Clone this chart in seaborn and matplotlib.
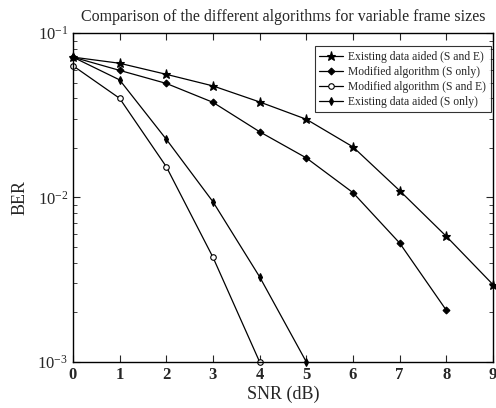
import numpy as np
import pandas as pd
import matplotlib
matplotlib.use("Agg")
import matplotlib.pyplot as plt
import seaborn as sns
from matplotlib.ticker import LogLocator, NullFormatter

snr_a = [0, 1, 2, 3, 4, 5, 6, 7, 8, 9]
ber_a = [0.0714, 0.0655, 0.0561, 0.0477, 0.0381, 0.0299, 0.0203, 0.0110, 0.0058, 0.00295]

snr_b = [0, 1, 2, 3, 4, 5, 6, 7, 8]
ber_b = [0.0714, 0.0593, 0.0494, 0.0379, 0.0251, 0.0174, 0.0107, 0.00528, 0.00206]

snr_c = [0, 1, 2, 3, 4]
ber_c = [0.0633, 0.0401, 0.0154, 0.00433, 0.001]

snr_d = [0, 1, 2, 3, 4, 5]
ber_d = [0.0714, 0.0519, 0.0226, 0.00942, 0.00329, 0.001]

labels = ["Existing data aided (S and E)", "Modified algorithm (S only)",
          "Modified algorithm (S and E)", "Existing data aided (S only)"]

frames = []
for lab, xs, ys in zip(labels, [snr_a, snr_b, snr_c, snr_d], [ber_a, ber_b, ber_c, ber_d]):
    frames.append(pd.DataFrame({"SNR": xs, "BER": ys, "series": lab}))
df = pd.concat(frames, ignore_index=True)

sns.set_style("ticks")
plt.rcParams['font.family'] = ['Liberation Serif', 'DejaVu Serif']
plt.rcParams['mathtext.fontset'] = 'stix'

fig = plt.figure(figsize=(4.96, 4.08), dpi=100)
ax = fig.add_axes([0.147, 0.113, 0.847, 0.806])

markers = {labels[0]: '*', labels[1]: 'D', labels[2]: 'o', labels[3]: 'd'}
ms_list = [6.5, 3.5, 4, 4]
palette = {l: 'black' for l in labels}

sns.lineplot(data=df, x="SNR", y="BER", hue="series", style="series",
             markers=markers, dashes=False, palette=palette, ax=ax,
             linewidth=0.9, markersize=5, legend=False, sort=False)

lines = ax.get_lines()[:4]
for i, line in enumerate(lines):
    line.set_markersize(ms_list[i])
    line.set_linestyle('-')
    line.set_clip_on(False)
    if i == 2:
        line.set_markerfacecolor('white')
    else:
        line.set_markerfacecolor('black')
    line.set_markeredgecolor('black')
    line.set_markeredgewidth(0.8)
    line.set_label(labels[i])

ax.set_yscale('log')
ax.set_xlim(0, 9)
ax.set_ylim(1e-3, 1e-1)
ax.set_xticks(range(10))
ax.yaxis.set_major_locator(LogLocator(base=10, numticks=10))
ax.yaxis.set_minor_locator(LogLocator(base=10, subs=np.arange(2, 10), numticks=10))
ax.yaxis.set_minor_formatter(NullFormatter())
ax.tick_params(which='both', direction='in', top=True, right=True, labelsize=12)
ax.tick_params(which='major', length=5, width=0.8)
ax.tick_params(which='minor', length=3, width=0.6)
for lab in ax.get_xticklabels():
    lab.set_fontweight('bold')
for s in ax.spines.values():
    s.set_linewidth(1.0)
    s.set_color('black')

ax.set_xlabel("SNR (dB)", fontsize=13, labelpad=2)
ax.set_ylabel("BER", fontsize=13, labelpad=6)
ax.set_title("Comparison of the different algorithms for variable frame sizes", fontsize=11.5, pad=9)

leg = ax.legend(lines, labels, loc='upper right', bbox_to_anchor=(0.995, 0.96),
                fontsize=8.4, frameon=True, fancybox=False, edgecolor='black',
                handlelength=2.0, handletextpad=0.5, borderpad=0.4, labelspacing=0.25,
                borderaxespad=0.0)
leg.get_frame().set_linewidth(0.8)

fig.savefig("out.png", dpi=100)
